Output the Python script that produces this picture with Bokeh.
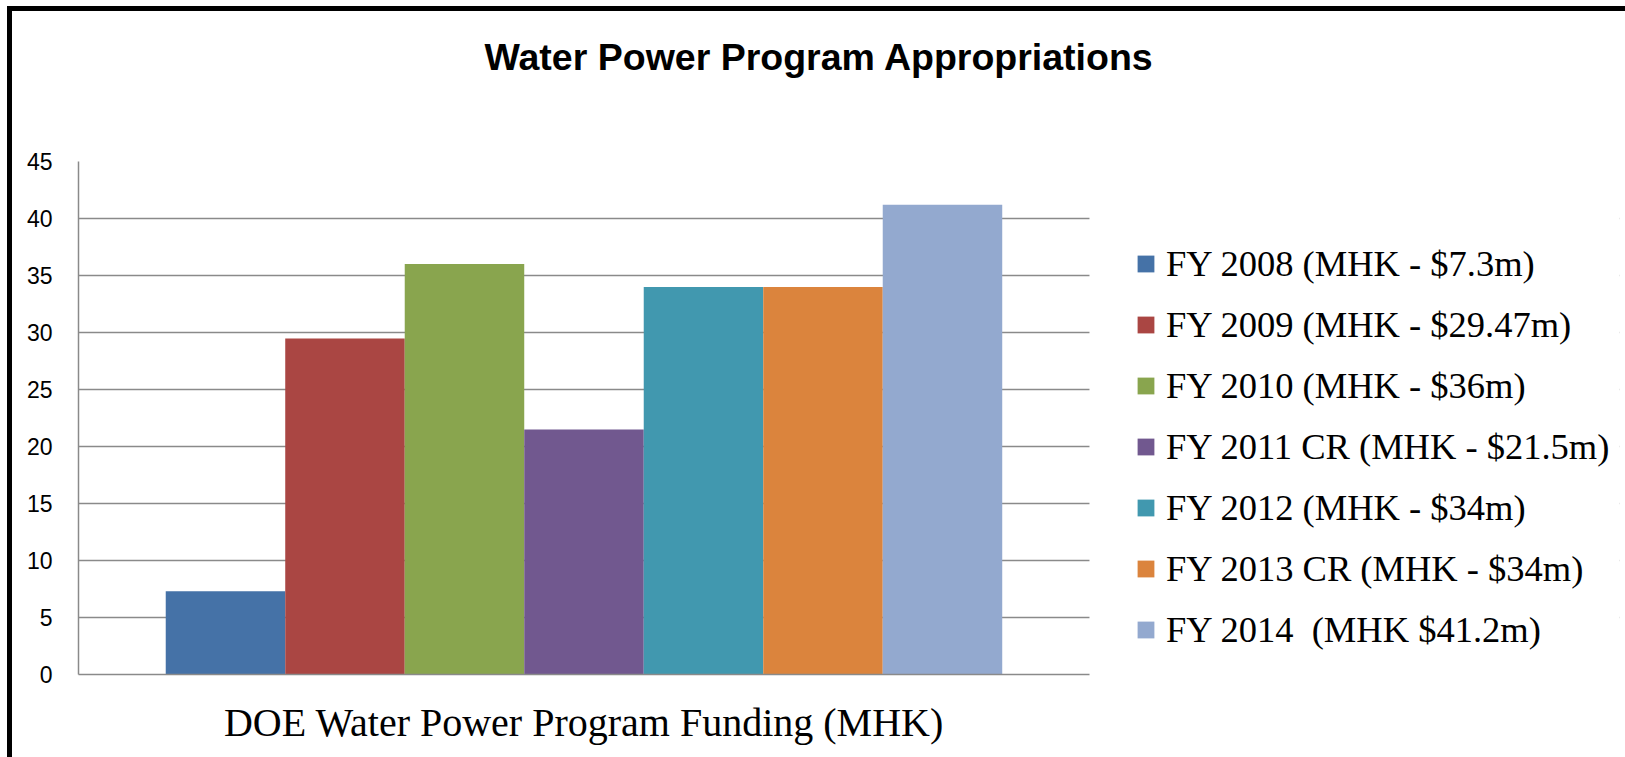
from bokeh.plotting import figure
from bokeh.models import (ColumnDataSource, Range1d, FixedTicker, Legend, LegendItem,
                          Title, BoxAnnotation)
from bokeh.embed import file_html
from bokeh.resources import INLINE

# ---- data ----
group_label = "DOE Water Power Program Funding (MHK)"
series = ["FY 2008 (MHK - $7.3m)", "FY 2009 (MHK - $29.47m)", "FY 2010 (MHK - $36m)",
          "FY 2011 CR (MHK - $21.5m)", "FY 2012 (MHK - $34m)", "FY 2013 CR (MHK - $34m)",
          "FY 2014  (MHK $41.2m)"]
values = [7.3, 29.47, 36, 21.5, 34, 34, 41.2]
colors = ["#4572A7", "#AA4643", "#89A54E", "#71588F", "#4198AF", "#DB843D", "#93A9CF"]
y_ticks = [0, 5, 10, 15, 20, 25, 30, 35, 40, 45]
title_text = "Water Power Program Appropriations"

# ---- layout parameters ----
W, H = 1625, 757
MB_L, MB_R, MB_T, MB_B = 66, 18, 150, 94
bar_px = 119.5           # pixel width of one bar
gap = 0.73               # empty space (in bar widths) each side of the cluster
n = len(values)
area_lo, area_hi = -0.5 - gap, n - 0.5 + gap
frame_w = W - MB_L - MB_R
x_end = area_lo + frame_w / bar_px

p = figure(width=W, height=H, x_range=Range1d(area_lo, x_end), y_range=Range1d(0, 45),
           output_backend="svg", toolbar_location=None,
           min_border_left=MB_L, min_border_right=MB_R, min_border_top=MB_T,
           min_border_bottom=MB_B)
p.styles = {"border": "5px solid black", "margin": "6px 0px 0px 7px"}
p.outline_line_color = None
p.background_fill_color = "white"
p.border_fill_color = "white"

src = ColumnDataSource(dict(x=list(range(n)), top=values, color=colors, label=series))
r = p.vbar(x="x", top="top", width=1.0, source=src, fill_color="color", line_color=None)

# axes / grid
grid_col = "#8a8a8a"
p.yaxis.ticker = FixedTicker(ticks=y_ticks)
p.ygrid.ticker = FixedTicker(ticks=y_ticks)
p.ygrid.grid_line_color = grid_col
p.ygrid.grid_line_width = 1.5
p.xgrid.grid_line_color = None
for ax in (p.xaxis, p.yaxis):
    ax.axis_line_color = grid_col
    ax.axis_line_width = 1.5
    ax.major_tick_line_color = None
    ax.minor_tick_line_color = None
    ax.major_tick_out = 0
    ax.major_tick_in = 0
p.yaxis.major_label_text_font = "Liberation Sans"
p.yaxis.major_label_text_font_size = "23px"
p.yaxis.major_label_text_color = "black"
p.yaxis.major_label_standoff = 26
center = (n - 1) / 2
p.xaxis.ticker = FixedTicker(ticks=[center])
p.xaxis.major_label_overrides = {center: group_label}
p.xaxis.bounds = (area_lo, area_hi)
p.xaxis.major_label_text_font = "Liberation Serif"
p.xaxis.major_label_text_font_size = "40px"
p.xaxis.major_label_text_color = "black"
p.xaxis.major_label_standoff = 25

# keep the gridlines inside the plot area (blank the legend side)
p.add_layout(BoxAnnotation(left=area_hi, fill_color="white", fill_alpha=1.0,
                           line_color=None, level="underlay"))

# empty spacer between the plot area and the title, then the title itself
p.add_layout(Title(text=" ", text_font_size="10px", standoff=66), "above")
p.add_layout(Title(text=title_text, align="left", offset=406, vertical_align="bottom",
                   standoff=10, text_font="Liberation Sans", text_font_style="bold",
                   text_font_size="37.5px", text_color="black"), "above")

items = [LegendItem(label=s, renderers=[r], index=i) for i, s in enumerate(series)]
legend = Legend(items=items, location=(1057, 14), margin=0, padding=0,
                border_line_color=None, background_fill_alpha=0,
                glyph_width=21, glyph_height=21, label_height=61, spacing=0,
                label_standoff=10, label_text_font="Liberation Serif",
                label_text_font_size="36.5px", label_text_color="black")
p.add_layout(legend, "center")

open("out.html", "w").write(file_html(p, INLINE))
